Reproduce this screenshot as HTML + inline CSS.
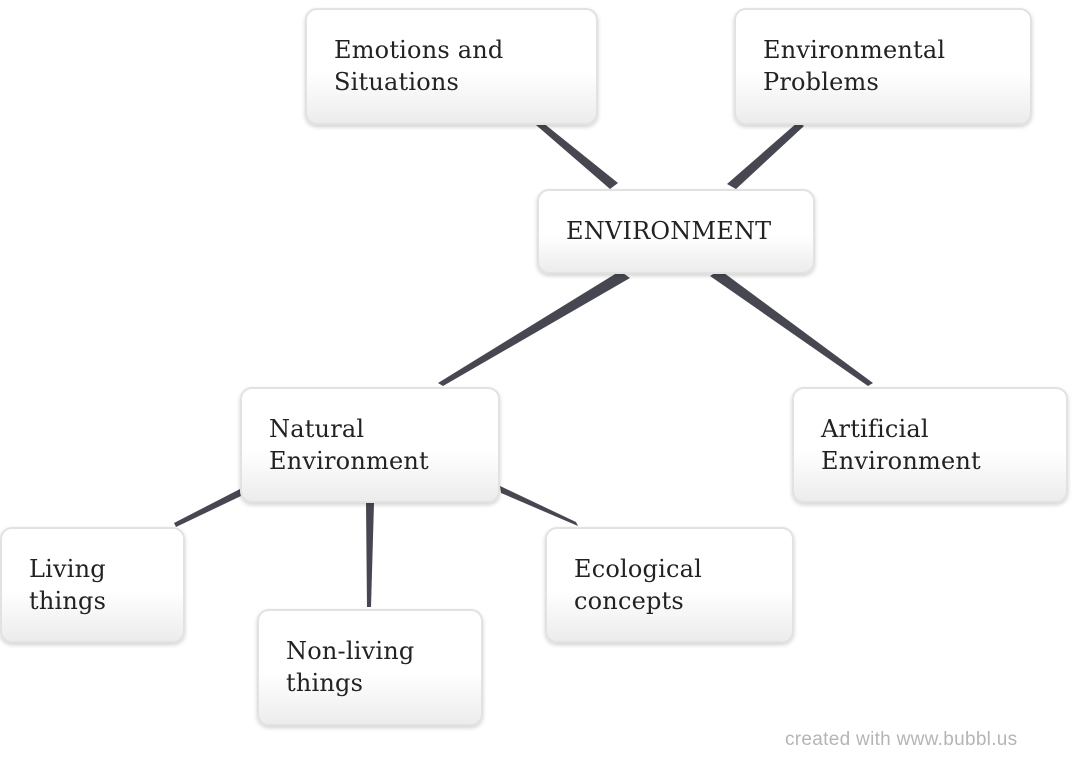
<!DOCTYPE html>
<html><head><style>
body{margin:0;width:1088px;height:778px;background:#fff;position:relative;overflow:hidden;font-family:"DejaVu Serif","Liberation Serif",serif;}
.b{position:absolute;box-sizing:border-box;border:2px solid #e2e2e2;border-radius:12px;background:linear-gradient(#fff 55%,#ececec);box-shadow:0 2px 4px rgba(0,0,0,.18);font-size:24px;line-height:32px;color:#222;padding:24px 0 0 27px;letter-spacing:0.2px;}
svg{position:absolute;left:0;top:0}
.w{position:absolute;left:785px;top:729px;font:19px "Liberation Sans",sans-serif;color:#b5b5b5;letter-spacing:0.3px;}
</style></head><body>
<svg width="1088" height="778">
<g fill="#474751">
<polygon points="536,125 542,122 618,183 610,189"/>
<polygon points="798,122 804,126 736,189 727,184"/>
<polygon points="620,271 630,278 443,386 438,383"/>
<polygon points="710,276 720,270 873,383 868,386"/>
<polygon points="240,489 241,496 176,527 174,523"/>
<polygon points="366,503 374,503 371,607 367,607"/>
<polygon points="500,486 501,493 578,526 576,522"/>
</g>
</svg>
<div class="b" style="left:305px;top:8px;width:293px;height:117px">Emotions and<br>Situations</div>
<div class="b" style="left:734px;top:8px;width:298px;height:117px">Environmental<br>Problems</div>
<div class="b" style="left:537px;top:189px;width:278px;height:85px;padding-top:24px">ENVIRONMENT</div>
<div class="b" style="left:240px;top:387px;width:260px;height:116px">Natural<br>Environment</div>
<div class="b" style="left:792px;top:387px;width:276px;height:116px">Artificial<br>Environment</div>
<div class="b" style="left:0px;top:527px;width:185px;height:116px">Living<br>things</div>
<div class="b" style="left:257px;top:609px;width:226px;height:117px">Non-living<br>things</div>
<div class="b" style="left:545px;top:527px;width:249px;height:116px">Ecological<br>concepts</div>
<div class="w">created with www.bubbl.us</div>
</body></html>
